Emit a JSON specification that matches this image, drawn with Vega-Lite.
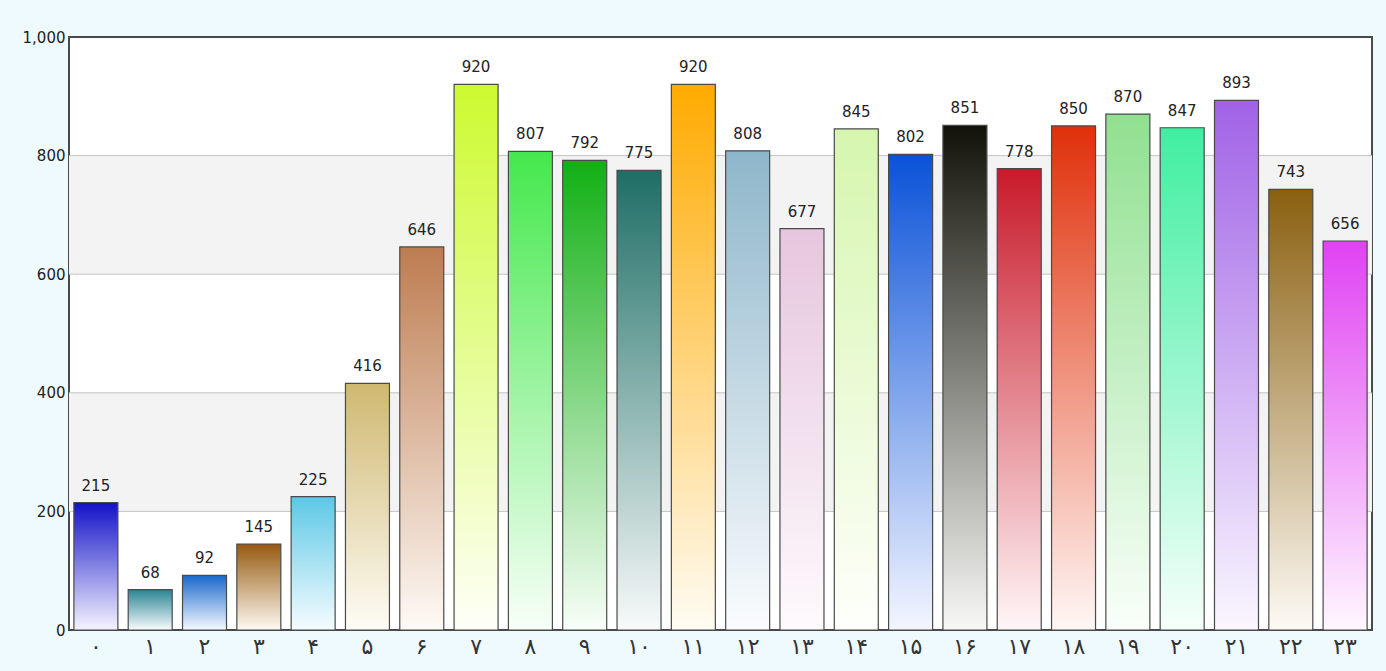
{
  "$schema": "https://vega.github.io/schema/vega-lite/v6.json",
  "autosize": "none",
  "width": 1303,
  "height": 593,
  "padding": {"left": 69, "top": 37, "right": 14, "bottom": 41},
  "background": "#eefafd",
  "config": {
    "view": {"stroke": "#4a4a4a", "strokeWidth": 2, "fill": "#ffffff"},
    "font": "DejaVu Sans"
  },
  "datasets": {
    "bars": [
      {"i": 0, "h": "۰", "v": 215},
      {"i": 1, "h": "۱", "v": 68},
      {"i": 2, "h": "۲", "v": 92},
      {"i": 3, "h": "۳", "v": 145},
      {"i": 4, "h": "۴", "v": 225},
      {"i": 5, "h": "۵", "v": 416},
      {"i": 6, "h": "۶", "v": 646},
      {"i": 7, "h": "۷", "v": 920},
      {"i": 8, "h": "۸", "v": 807},
      {"i": 9, "h": "۹", "v": 792},
      {"i": 10, "h": "۱۰", "v": 775},
      {"i": 11, "h": "۱۱", "v": 920},
      {"i": 12, "h": "۱۲", "v": 808},
      {"i": 13, "h": "۱۳", "v": 677},
      {"i": 14, "h": "۱۴", "v": 845},
      {"i": 15, "h": "۱۵", "v": 802},
      {"i": 16, "h": "۱۶", "v": 851},
      {"i": 17, "h": "۱۷", "v": 778},
      {"i": 18, "h": "۱۸", "v": 850},
      {"i": 19, "h": "۱۹", "v": 870},
      {"i": 20, "h": "۲۰", "v": 847},
      {"i": 21, "h": "۲۱", "v": 893},
      {"i": 22, "h": "۲۲", "v": 743},
      {"i": 23, "h": "۲۳", "v": 656}
    ],
    "bands": [
      {"lo": 200, "hi": 400},
      {"lo": 600, "hi": 800}
    ],
    "grid": [
      {"g": 200}, {"g": 400}, {"g": 600}, {"g": 800}
    ]
  },
  "layer": [
    {
      "data": {"name": "bands"},
      "mark": {"type": "rect", "fill": "#f3f3f3"},
      "encoding": {
        "y": {
          "field": "lo", "type": "quantitative", "scale": {"domain": [0, 1000]},
          "axis": {"title": null, "values": [0, 200, 400, 600, 800, 1000], "format": ",d", "grid": false, "ticks": false, "domain": false, "labelFontSize": 15, "labelColor": "#222222", "labelPadding": 4}
        },
        "y2": {"field": "hi"}
      }
    },
    {
      "data": {"name": "grid"},
      "mark": {"type": "rule", "stroke": "#c4c4c4", "strokeWidth": 1},
      "encoding": {
        "y": {"field": "g", "type": "quantitative"}
      }
    },
    {
      "data": {"name": "bars"},
      "mark": {"type": "bar", "stroke": "#4a4a4a", "strokeWidth": 1.2},
      "encoding": {
        "x": {
          "field": "h", "type": "nominal", "sort": null,
          "scale": {"paddingInner": 0.19, "paddingOuter": 0.09},
          "axis": {"title": null, "labelAngle": 0, "ticks": false, "domain": false, "labelFontSize": 22, "labelColor": "#333333", "labelPadding": 6}
        },
        "y": {"field": "v", "type": "quantitative"},
        "fill": {
          "condition": [
            {"test": "datum.i === 0", "value": {"gradient": "linear", "x1": 0, "y1": 0, "x2": 0, "y2": 1, "stops": [{"offset": 0, "color": "#1212c8"}, {"offset": 1, "color": "#f6f4ff"}]}},
            {"test": "datum.i === 1", "value": {"gradient": "linear", "x1": 0, "y1": 0, "x2": 0, "y2": 1, "stops": [{"offset": 0, "color": "#2a8494"}, {"offset": 1, "color": "#f8fcfd"}]}},
            {"test": "datum.i === 2", "value": {"gradient": "linear", "x1": 0, "y1": 0, "x2": 0, "y2": 1, "stops": [{"offset": 0, "color": "#1868cc"}, {"offset": 1, "color": "#f6faff"}]}},
            {"test": "datum.i === 3", "value": {"gradient": "linear", "x1": 0, "y1": 0, "x2": 0, "y2": 1, "stops": [{"offset": 0, "color": "#965a10"}, {"offset": 1, "color": "#fefaf2"}]}},
            {"test": "datum.i === 4", "value": {"gradient": "linear", "x1": 0, "y1": 0, "x2": 0, "y2": 1, "stops": [{"offset": 0, "color": "#5cc8e6"}, {"offset": 1, "color": "#f6fcff"}]}},
            {"test": "datum.i === 5", "value": {"gradient": "linear", "x1": 0, "y1": 0, "x2": 0, "y2": 1, "stops": [{"offset": 0, "color": "#cfb870"}, {"offset": 1, "color": "#fefcf6"}]}},
            {"test": "datum.i === 6", "value": {"gradient": "linear", "x1": 0, "y1": 0, "x2": 0, "y2": 1, "stops": [{"offset": 0, "color": "#bd7c50"}, {"offset": 1, "color": "#fefaf6"}]}},
            {"test": "datum.i === 7", "value": {"gradient": "linear", "x1": 0, "y1": 0, "x2": 0, "y2": 1, "stops": [{"offset": 0, "color": "#ccfa30"}, {"offset": 1, "color": "#fefff8"}]}},
            {"test": "datum.i === 8", "value": {"gradient": "linear", "x1": 0, "y1": 0, "x2": 0, "y2": 1, "stops": [{"offset": 0, "color": "#44e84c"}, {"offset": 1, "color": "#f8fff8"}]}},
            {"test": "datum.i === 9", "value": {"gradient": "linear", "x1": 0, "y1": 0, "x2": 0, "y2": 1, "stops": [{"offset": 0, "color": "#12b014"}, {"offset": 1, "color": "#f8fef8"}]}},
            {"test": "datum.i === 10", "value": {"gradient": "linear", "x1": 0, "y1": 0, "x2": 0, "y2": 1, "stops": [{"offset": 0, "color": "#1e6e66"}, {"offset": 1, "color": "#f8fafa"}]}},
            {"test": "datum.i === 11", "value": {"gradient": "linear", "x1": 0, "y1": 0, "x2": 0, "y2": 1, "stops": [{"offset": 0, "color": "#ffaa00"}, {"offset": 1, "color": "#fffcf4"}]}},
            {"test": "datum.i === 12", "value": {"gradient": "linear", "x1": 0, "y1": 0, "x2": 0, "y2": 1, "stops": [{"offset": 0, "color": "#8eb6ca"}, {"offset": 1, "color": "#fafcfe"}]}},
            {"test": "datum.i === 13", "value": {"gradient": "linear", "x1": 0, "y1": 0, "x2": 0, "y2": 1, "stops": [{"offset": 0, "color": "#e6c6de"}, {"offset": 1, "color": "#fefafd"}]}},
            {"test": "datum.i === 14", "value": {"gradient": "linear", "x1": 0, "y1": 0, "x2": 0, "y2": 1, "stops": [{"offset": 0, "color": "#d6f6ae"}, {"offset": 1, "color": "#fefffb"}]}},
            {"test": "datum.i === 15", "value": {"gradient": "linear", "x1": 0, "y1": 0, "x2": 0, "y2": 1, "stops": [{"offset": 0, "color": "#0a52d8"}, {"offset": 1, "color": "#f4f6ff"}]}},
            {"test": "datum.i === 16", "value": {"gradient": "linear", "x1": 0, "y1": 0, "x2": 0, "y2": 1, "stops": [{"offset": 0, "color": "#12120a"}, {"offset": 1, "color": "#f8f8f6"}]}},
            {"test": "datum.i === 17", "value": {"gradient": "linear", "x1": 0, "y1": 0, "x2": 0, "y2": 1, "stops": [{"offset": 0, "color": "#c81a2a"}, {"offset": 1, "color": "#fff6f7"}]}},
            {"test": "datum.i === 18", "value": {"gradient": "linear", "x1": 0, "y1": 0, "x2": 0, "y2": 1, "stops": [{"offset": 0, "color": "#e0300a"}, {"offset": 1, "color": "#fff7f5"}]}},
            {"test": "datum.i === 19", "value": {"gradient": "linear", "x1": 0, "y1": 0, "x2": 0, "y2": 1, "stops": [{"offset": 0, "color": "#90e090"}, {"offset": 1, "color": "#fafffa"}]}},
            {"test": "datum.i === 20", "value": {"gradient": "linear", "x1": 0, "y1": 0, "x2": 0, "y2": 1, "stops": [{"offset": 0, "color": "#40eea0"}, {"offset": 1, "color": "#f6fffb"}]}},
            {"test": "datum.i === 21", "value": {"gradient": "linear", "x1": 0, "y1": 0, "x2": 0, "y2": 1, "stops": [{"offset": 0, "color": "#a062e6"}, {"offset": 1, "color": "#faf7ff"}]}},
            {"test": "datum.i === 22", "value": {"gradient": "linear", "x1": 0, "y1": 0, "x2": 0, "y2": 1, "stops": [{"offset": 0, "color": "#8a6010"}, {"offset": 1, "color": "#fdfaf4"}]}}
          ],
          "value": {"gradient": "linear", "x1": 0, "y1": 0, "x2": 0, "y2": 1, "stops": [{"offset": 0, "color": "#e042f2"}, {"offset": 1, "color": "#fff7ff"}]}
        }
      }
    },
    {
      "data": {"name": "bars"},
      "mark": {"type": "text", "baseline": "bottom", "dy": -9, "fontSize": 15, "fill": "#222222"},
      "encoding": {
        "x": {"field": "h", "type": "nominal", "sort": null},
        "y": {"field": "v", "type": "quantitative"},
        "text": {"field": "v", "type": "quantitative", "format": ",d"}
      }
    }
  ]
}
